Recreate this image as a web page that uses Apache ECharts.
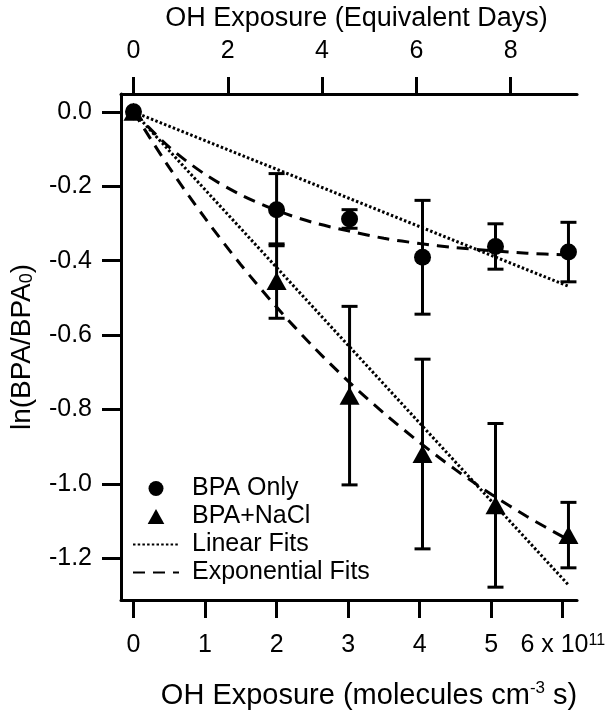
<!DOCTYPE html>
<html><head><meta charset="utf-8">
<script src="https://cdn.jsdelivr.net/npm/echarts@6/dist/echarts.min.js"></script>
<style>html,body{margin:0;padding:0;background:#fff}#c{width:608px;height:723px}</style>
</head><body><div id="c"></div>
<script>
// ---- data ----
const exposure = [0, 2.0, 3.02, 4.04, 5.06, 6.08];           // x 10^11 molecules cm^-3 s
const bpaOnly = [0, -0.263, -0.288, -0.391, -0.362, -0.377];
const bpaOnlyErr = [0, 0.097, 0.025, 0.153, 0.061, 0.08];
const bpaNaCl = [0, -0.455, -0.763, -0.920, -1.058, -1.138];
const bpaNaClErr = [0, 0.10, 0.24, 0.255, 0.22, 0.088];
const fitX = [0, 0.5, 1, 1.5, 2, 2.5, 3, 3.5, 4, 4.5, 5, 5.5, 6.08];
const expFitOnly = [0, -0.095, -0.168, -0.223, -0.265, -0.297, -0.320, -0.340, -0.354, -0.365, -0.373, -0.380, -0.385];
const expFitNaCl = [0, -0.150, -0.286, -0.411, -0.525, -0.629, -0.724, -0.810, -0.889, -0.962, -1.028, -1.088, -1.151];
const linFitX = [0, 6.08];
const linFitOnly = [0, -0.469];
const linFitNaCl = [0, -1.272];
const bottomTicks = [0, 1, 2, 3, 4, 5, 6];
const topTicks = [0, 2, 4, 6, 8];
const yTicks = [0, -0.2, -0.4, -0.6, -0.8, -1.0, -1.2];
const daysPerUnit = 1.5176; // equivalent days per 10^11 molecules cm^-3 s (top axis scale)

const FONT = '"Liberation Sans", Arial, Helvetica, sans-serif';
const zip = (xs, ys) => xs.map((x, i) => [x, ys[i]]);
const zip3 = (xs, ys, es) => xs.map((x, i) => [x, ys[i], es[i]]);
const xMin = -0.175, xMax = 6.2;

function errorBar(params, api) {
  const x = api.value(0), y = api.value(1), e = api.value(2);
  if (!e) return null;
  const top = api.coord([x, y + e]);
  const bot = api.coord([x, y - e]);
  const w = 8;
  const st = { stroke: '#000', lineWidth: 3 };
  return { type: 'group', children: [
    { type: 'line', shape: { x1: top[0], y1: top[1], x2: bot[0], y2: bot[1] }, style: st },
    { type: 'line', shape: { x1: top[0] - w, y1: top[1], x2: top[0] + w, y2: top[1] }, style: st },
    { type: 'line', shape: { x1: bot[0] - w, y1: bot[1], x2: bot[0] + w, y2: bot[1] }, style: st }
  ]};
}

const axisLineStyle = { show: true, onZero: false, lineStyle: { color: '#000', width: 3 } };
const tickStyle = { color: '#000', width: 3 };
const hiddenSymbol = { color: 'rgba(0,0,0,0)', borderColor: 'rgba(0,0,0,0)', borderWidth: 0 };
const dotted = { color: '#000', width: 3, type: [2.5, 2.2] };
const dashed = { color: '#000', width: 3, type: [12, 8] };

const option = {
  animation: false,
  backgroundColor: '#fff',
  textStyle: { fontFamily: FONT, color: '#000' },
  grid: { left: 118, top: 92, right: 30, bottom: 123, containLabel: false },
  xAxis: [
    {
      type: 'value', position: 'bottom', min: xMin, max: xMax,
      axisLine: axisLineStyle, splitLine: { show: false },
      axisTick: { show: true, customValues: bottomTicks, length: 18, lineStyle: tickStyle },
      axisLabel: {
        customValues: bottomTicks, margin: 33, fontSize: 25, color: '#000', fontFamily: FONT,
        formatter: v => v === 6 ? '6 x 10{sup|11}' : String(v),
        rich: { sup: { fontSize: 16, verticalAlign: 'top', lineHeight: 14, fontFamily: FONT, color: '#000' } }
      },
      name: 'OH Exposure (molecules cm{sup|-3} s)', nameLocation: 'middle', nameGap: 80,
      nameTextStyle: {
        fontSize: 29, color: '#000', fontFamily: FONT, lineHeight: 32, padding: [0, 0, 0, 40],
        rich: { sup: { fontSize: 17, verticalAlign: 'top', lineHeight: 17, fontFamily: FONT, color: '#000' } }
      }
    },
    {
      type: 'value', position: 'top', min: xMin * daysPerUnit, max: xMax * daysPerUnit,
      axisLine: axisLineStyle, splitLine: { show: false },
      axisTick: { show: true, customValues: topTicks, length: 17, lineStyle: tickStyle },
      axisLabel: { customValues: topTicks, margin: 30, fontSize: 25, color: '#000', fontFamily: FONT },
      name: 'OH Exposure (Equivalent Days)', nameLocation: 'middle', nameGap: 62,
      nameTextStyle: { fontSize: 27, color: '#000', fontFamily: FONT, padding: [0, 0, 0, 15] }
    }
  ],
  yAxis: {
    type: 'value', min: -1.3125, max: 0.048,
    axisLine: axisLineStyle, splitLine: { show: false },
    axisTick: { show: true, customValues: yTicks, length: 19, lineStyle: tickStyle },
    axisLabel: { customValues: yTicks, margin: 29, fontSize: 25, color: '#000', fontFamily: FONT,
      formatter: v => v.toFixed(1) },
    name: 'ln(BPA/BPA{sub|0})', nameLocation: 'middle', nameGap: 85,
    nameTextStyle: { fontSize: 28, color: '#000', fontFamily: FONT,
      rich: { sub: { fontSize: 18, verticalAlign: 'bottom', fontFamily: FONT, color: '#000' } } }
  },
  legend: {
    orient: 'vertical', left: 132, top: 476, padding: 0, itemWidth: 46, itemHeight: 15, itemGap: 3,
    selectedMode: false,
    textStyle: { fontSize: 25, color: '#000', fontFamily: FONT, lineHeight: 25, padding: [0, 0, 0, 8] },
    data: [
      { name: 'BPA Only', icon: 'circle' },
      { name: 'BPA+NaCl', icon: 'path://M0,18 L10,0 L20,18 Z' },
      { name: 'Linear Fits', itemStyle: hiddenSymbol },
      { name: 'Exponential Fits', itemStyle: hiddenSymbol }
    ]
  },
  series: [
    { name: 'Linear Fits', type: 'line', xAxisIndex: 0, data: zip(linFitX, linFitOnly), symbol: 'none',
      color: '#000', lineStyle: dotted, z: 2 },
    { name: 'Linear Fits', type: 'line', xAxisIndex: 0, data: zip(linFitX, linFitNaCl), symbol: 'none',
      color: '#000', lineStyle: dotted, z: 2 },
    { name: 'Exponential Fits', type: 'line', xAxisIndex: 0, data: zip(fitX, expFitOnly), symbol: 'none', smooth: 0.3,
      color: '#000', lineStyle: dashed, z: 2 },
    { name: 'Exponential Fits', type: 'line', xAxisIndex: 0, data: zip(fitX, expFitNaCl), symbol: 'none', smooth: 0.3,
      color: '#000', lineStyle: dashed, z: 2 },
    { type: 'custom', xAxisIndex: 0, data: zip3(exposure, bpaNaCl, bpaNaClErr), renderItem: errorBar, z: 3 },
    { type: 'custom', xAxisIndex: 0, data: zip3(exposure, bpaOnly, bpaOnlyErr), renderItem: errorBar, z: 3 },
    { name: 'BPA+NaCl', type: 'scatter', xAxisIndex: 0, data: zip(exposure, bpaNaCl), symbol: 'triangle',
      symbolSize: [20, 18], itemStyle: { color: '#000', opacity: 1 }, z: 4 },
    { name: 'BPA Only', type: 'scatter', xAxisIndex: 0, data: zip(exposure, bpaOnly), symbol: 'circle',
      symbolSize: 17, itemStyle: { color: '#000', opacity: 1 }, z: 5 }
  ]
};
const chart = echarts.init(document.getElementById('c'), null, { renderer: 'canvas' });
chart.setOption(option);
</script></body></html>
